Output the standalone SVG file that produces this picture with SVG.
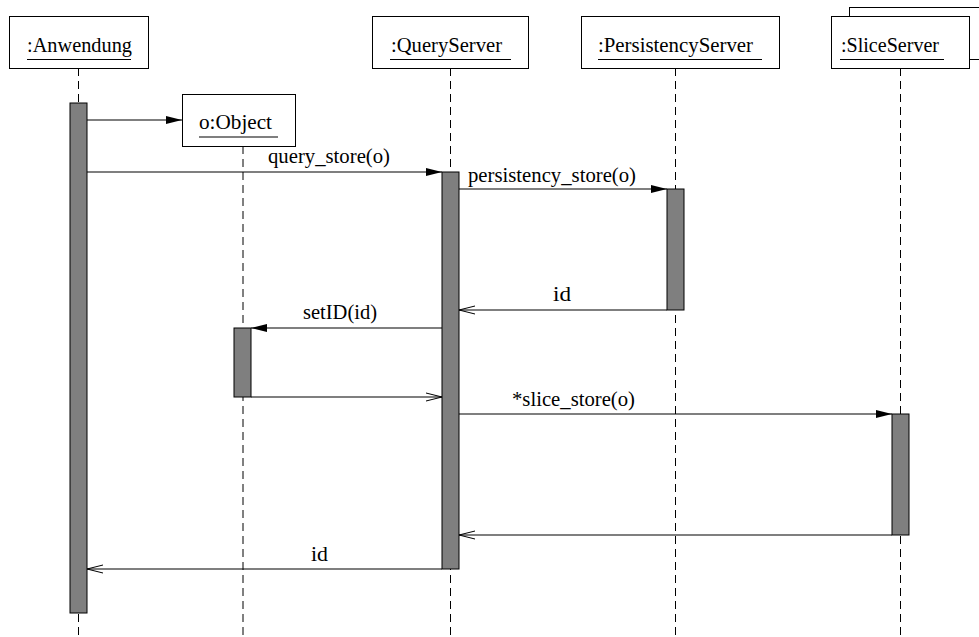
<svg xmlns="http://www.w3.org/2000/svg" width="979" height="637" viewBox="0 0 979 637">
  <style>
    .box { fill: #fff; stroke: #000; stroke-width: 1; }
    .name, .lbl { font-family: "Liberation Serif", "Times New Roman", "DejaVu Serif", serif; font-size: 21px; fill: #000; }
    .ul { stroke: #000; stroke-width: 1.2; }
    .life { stroke: #000; stroke-width: 1; stroke-dasharray: 8 5; fill: none; }
    .act { fill: #7f7f7f; stroke: #000; stroke-width: 1; }
    .msg { stroke: #000; stroke-width: 1.1; fill: none; }
  </style>
  <defs>
    <marker id="call" viewBox="0 0 16 8" refX="16" refY="4" markerWidth="16" markerHeight="8" markerUnits="userSpaceOnUse" orient="auto">
      <path d="M0,0 L16,4 L0,8 Z" fill="#000"/>
    </marker>
    <marker id="ret" viewBox="0 0 16 10" refX="16" refY="5" markerWidth="16" markerHeight="10" markerUnits="userSpaceOnUse" orient="auto">
      <path d="M0,1 L16,5 L0,9" fill="none" stroke="#000" stroke-width="1"/>
    </marker>
  </defs>

  <rect width="979" height="637" fill="#fff"/>

  <!-- lifelines -->
  <g id="lifelines">
    <line class="life" x1="78.5" y1="68" x2="78.5" y2="637"/>
    <line class="life" x1="243" y1="146" x2="243" y2="637" stroke="#555"/>
    <line class="life" x1="450.5" y1="68" x2="450.5" y2="637"/>
    <line class="life" x1="675.5" y1="68" x2="675.5" y2="637"/>
    <line class="life" x1="900.5" y1="68" x2="900.5" y2="637"/>
  </g>

  <!-- objects -->
  <g id="anwendung">
    <rect class="box" x="9.5" y="16.5" width="139" height="52"/>
    <text class="name" x="27" y="52" textLength="105" lengthAdjust="spacingAndGlyphs">:Anwendung</text>
    <line class="ul" x1="27" y1="59.5" x2="131" y2="59.5"/>
    <rect class="act" x="70" y="103" width="17" height="510"/>
  </g>

  <g id="object">
    <rect class="box" x="182.5" y="94.5" width="113" height="52"/>
    <text class="name" x="199" y="128.5" textLength="73" lengthAdjust="spacingAndGlyphs">o:Object</text>
    <line class="ul" x1="199" y1="137" x2="278" y2="137"/>
    <rect class="act" x="234" y="328" width="17" height="69"/>
  </g>

  <g id="queryserver">
    <rect class="box" x="372.5" y="16.5" width="156" height="52"/>
    <text class="name" x="391" y="52" textLength="111" lengthAdjust="spacingAndGlyphs">:QueryServer</text>
    <line class="ul" x1="390" y1="59.5" x2="511" y2="59.5"/>
    <rect class="act" x="442" y="172" width="17" height="397"/>
  </g>

  <g id="persistencyserver">
    <rect class="box" x="581.5" y="16.5" width="198" height="52"/>
    <text class="name" x="598" y="52" textLength="155" lengthAdjust="spacingAndGlyphs">:PersistencyServer</text>
    <line class="ul" x1="598" y1="59.5" x2="762" y2="59.5"/>
    <rect class="act" x="667" y="189" width="17" height="121"/>
  </g>

  <g id="sliceserver">
    <rect class="box" x="849.5" y="7.5" width="140" height="52"/>
    <rect class="box" x="831.5" y="16.5" width="138" height="52"/>
    <text class="name" x="841" y="52" textLength="98" lengthAdjust="spacingAndGlyphs">:SliceServer</text>
    <line class="ul" x1="840" y1="59.5" x2="944" y2="59.5"/>
    <rect class="act" x="892" y="414" width="17" height="121"/>
  </g>

  <!-- messages -->
  <g id="messages">
    <line class="msg" x1="87" y1="120" x2="182" y2="120" marker-end="url(#call)"/>

    <line class="msg" x1="87" y1="172" x2="442" y2="172" marker-end="url(#call)"/>
    <text class="lbl" x="268" y="163" textLength="122" lengthAdjust="spacingAndGlyphs">query_store(o)</text>

    <line class="msg" x1="459" y1="189" x2="667" y2="189" marker-end="url(#call)"/>
    <text class="lbl" x="468" y="182" textLength="168" lengthAdjust="spacingAndGlyphs">persistency_store(o)</text>

    <line class="msg" x1="667" y1="310" x2="459" y2="310" marker-end="url(#ret)"/>
    <text class="lbl" x="553" y="301" textLength="18" lengthAdjust="spacingAndGlyphs">id</text>

    <line class="msg" x1="442" y1="328" x2="251" y2="328" marker-end="url(#call)"/>
    <text class="lbl" x="303" y="319" textLength="74" lengthAdjust="spacingAndGlyphs">setID(id)</text>

    <line class="msg" x1="251" y1="397" x2="442" y2="397" marker-end="url(#ret)"/>

    <line class="msg" x1="459" y1="414" x2="892" y2="414" marker-end="url(#call)"/>
    <text class="lbl" x="512" y="406" textLength="123" lengthAdjust="spacingAndGlyphs">*slice_store(o)</text>

    <line class="msg" x1="892" y1="535" x2="459" y2="535" marker-end="url(#ret)"/>

    <line class="msg" x1="442" y1="569" x2="87" y2="569" marker-end="url(#ret)"/>
    <text class="lbl" x="311" y="561" textLength="17" lengthAdjust="spacingAndGlyphs">id</text>
  </g>
</svg>
